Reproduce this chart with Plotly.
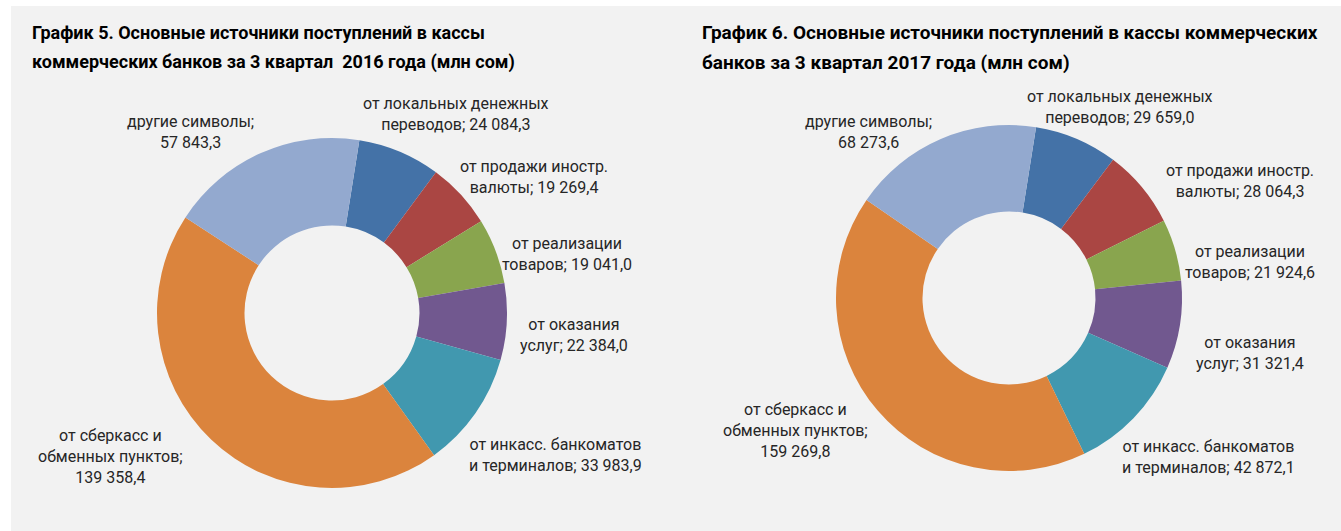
import plotly.graph_objects as go

# ---- data ----
labels = [
    "от локальных денежных<br>переводов",
    "от продажи иностр.<br>валюты",
    "от реализации<br>товаров",
    "от оказания<br>услуг",
    "от инкасс. банкоматов<br>и терминалов",
    "от сберкасс и<br>обменных пунктов",
    "другие символы",
]
separators = ["; ", "; ", "; ", "; ", "; ", ";<br>", ";<br>"]
values_2016 = [24084.3, 19269.4, 19041.0, 22384.0, 33983.9, 139358.4, 57843.3]
values_2017 = [29659.0, 28064.3, 21924.6, 31321.4, 42872.1, 159269.8, 68273.6]
colors = ["#4472a7", "#aa4643", "#89a54e", "#71588f", "#4198af", "#db843d", "#93a9cf"]
title_2016 = ["График 5. Основные источники поступлений в кассы",
              "коммерческих банков за 3 квартал  2016 года (млн сом)"]
title_2017 = ["График 6. Основные источники поступлений в кассы коммерческих",
              "банков за 3 квартал 2017 года (млн сом)"]

W, H = 1341, 531
FONT = "Roboto, sans-serif"


def fmt(v):
    return f"{v:,.1f}".replace(",", " ").replace(".", ",")


def px(x):
    return x / W


def py(y):
    return 1 - y / H


fig = go.Figure()

pies = [
    (values_2016, (332, 313), 175),
    (values_2017, (1009, 298), 173),
]
for vals, (cx, cy), r in pies:
    fig.add_trace(go.Pie(
        labels=[l.replace("<br>", " ") for l in labels],
        values=vals,
        sort=False,
        direction="clockwise",
        rotation=9,
        hole=0.5,
        marker=dict(colors=colors, line=dict(width=0)),
        textinfo="none",
        hoverinfo="label+value",
        showlegend=False,
        domain=dict(x=[px(cx - r), px(cx + r)], y=[py(cy + r), py(cy - r)]),
    ))

# label positions (pixel centers) for each chart
label_pos_2016 = [(456, 114), (534, 177), (567, 254), (574, 335), (555, 455), (110, 456), (190, 132)]
label_pos_2017 = [(1120, 107), (1240, 181), (1250, 262), (1250, 353), (1208, 457), (795, 430), (868, 132)]

annotations = []
for vals, poss in [(values_2016, label_pos_2016), (values_2017, label_pos_2017)]:
    for lab, sep, v, (x, y) in zip(labels, separators, vals, poss):
        annotations.append(dict(
            x=px(x), y=py(y), xref="paper", yref="paper",
            text=lab + sep + fmt(v), showarrow=False,
            xanchor="center", yanchor="middle", align="center",
            font=dict(family=FONT, size=16, color="#262626"),
        ))

for lines, x, size in [(title_2016, 30, 18), (title_2017, 700, 19)]:
    for line, y in zip(lines, [33, 62]):
        annotations.append(dict(
            x=px(x), y=py(y), xref="paper", yref="paper",
            text="<b>" + line + "</b>", showarrow=False,
            xanchor="left", yanchor="middle", align="left",
            font=dict(family=FONT, size=size, color="#000000"),
        ))

fig.update_layout(
    width=W, height=H,
    margin=dict(l=0, r=0, t=0, b=0),
    paper_bgcolor="#f2f2f2",
    plot_bgcolor="#f2f2f2",
    annotations=annotations,
    shapes=[
        dict(type="rect", xref="paper", yref="paper", x0=0, x1=1, y0=py(6), y1=1,
             fillcolor="#ffffff", line=dict(width=0), layer="above"),
        dict(type="rect", xref="paper", yref="paper", x0=0, x1=px(11), y0=0, y1=1,
             fillcolor="#ffffff", line=dict(width=0), layer="above"),
    ],
)

fig.write_html("out.html", config={"displayModeBar": False},
               post_script="document.body.style.margin='0';")
